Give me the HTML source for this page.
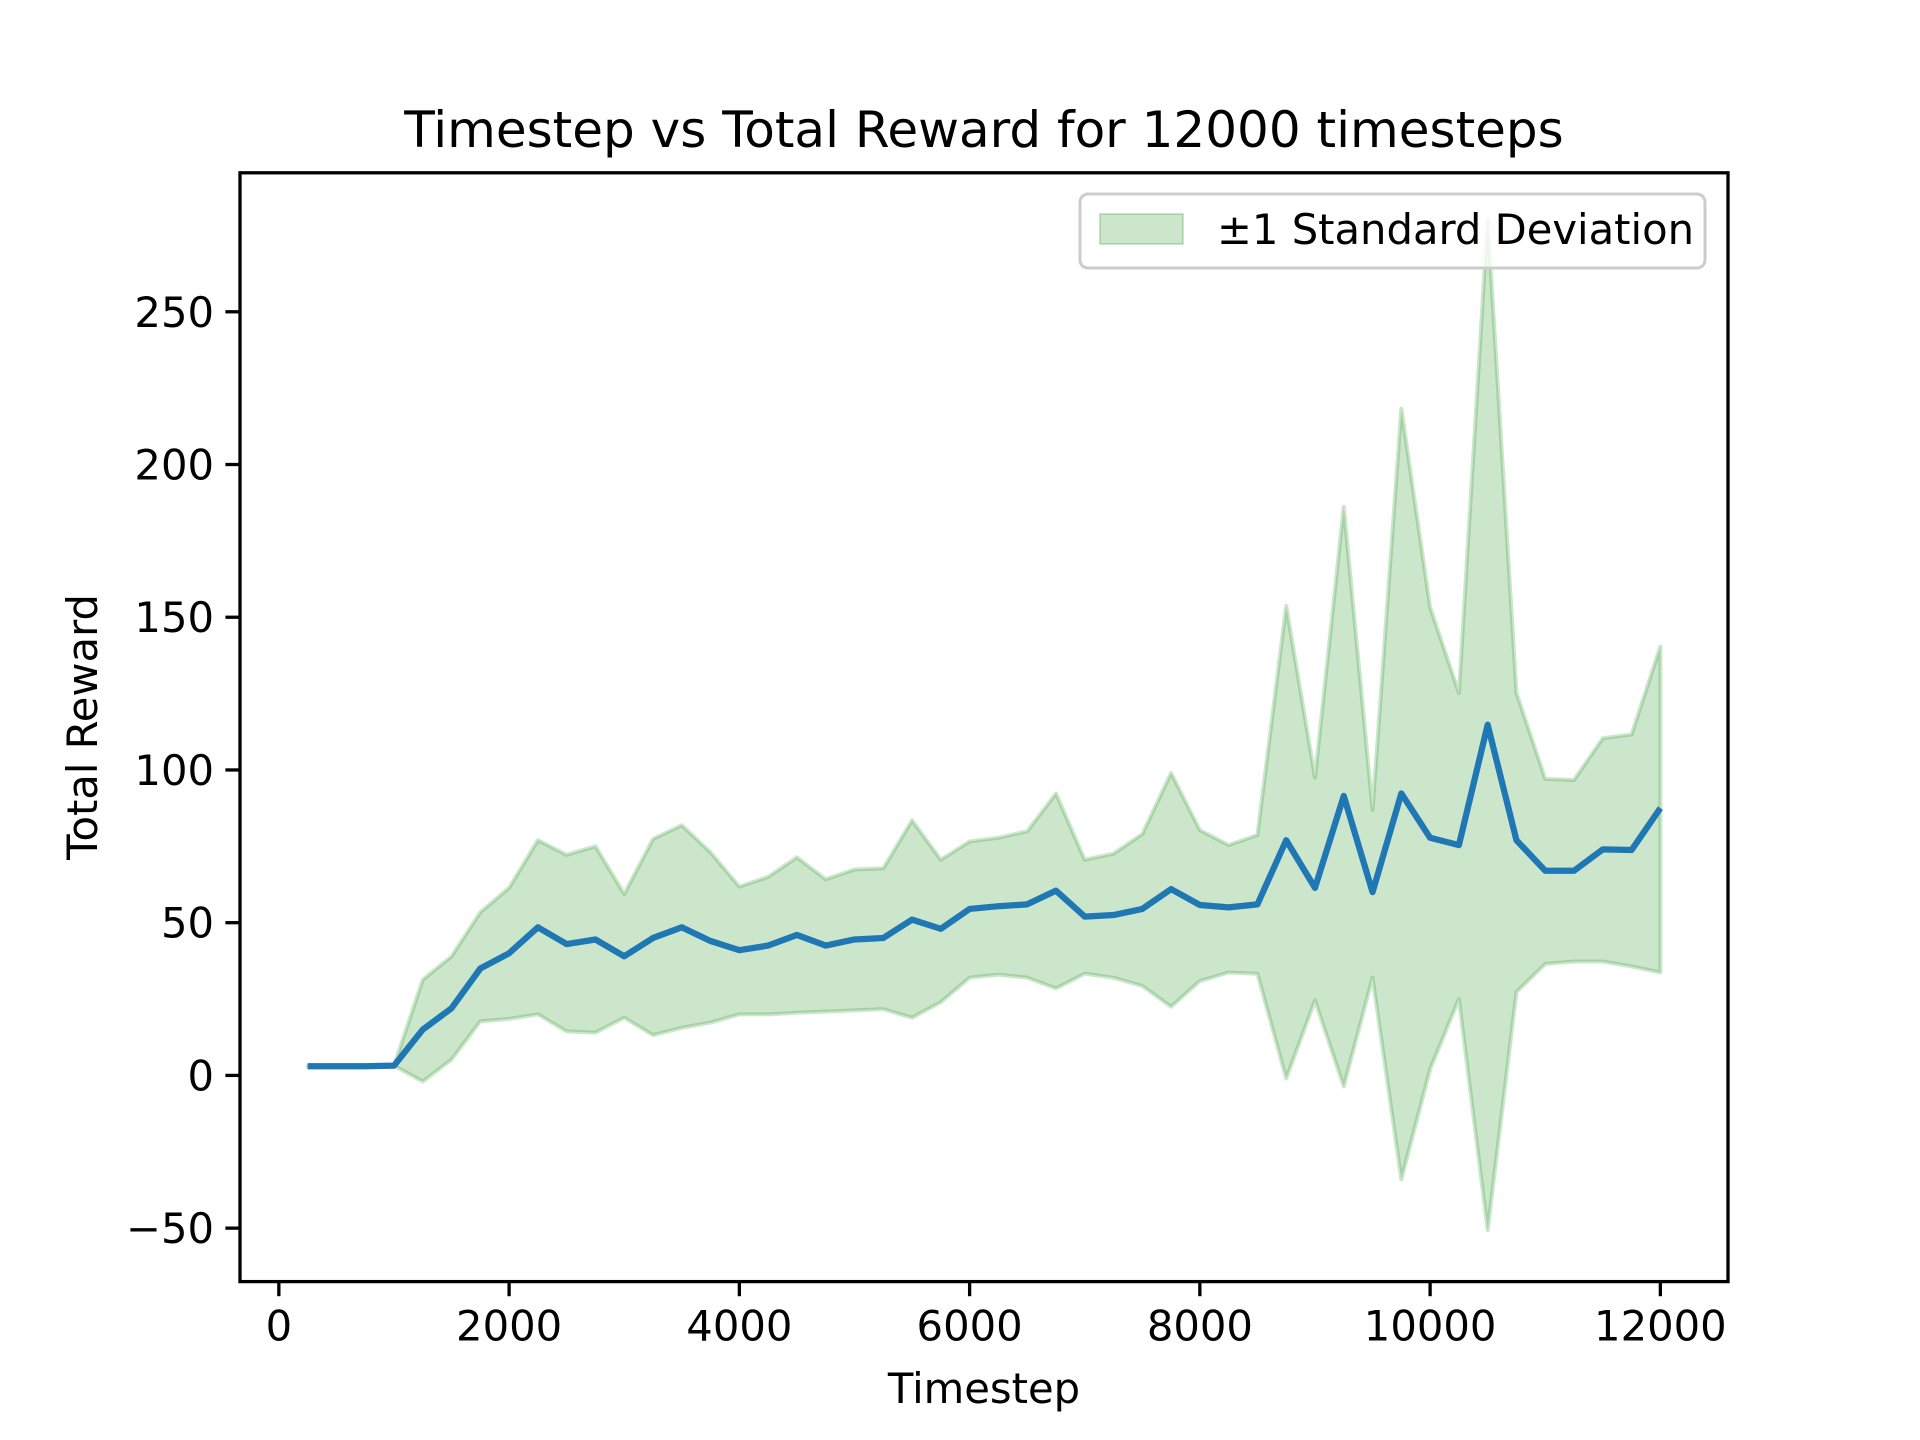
<!DOCTYPE html>
<html><head><meta charset="utf-8"><style>
html,body{margin:0;padding:0;background:#fff;}
svg{display:block;font-family:"DejaVu Sans","Liberation Sans",sans-serif;}
</style></head><body>
<svg id="chart" width="1920" height="1440" viewBox="0 0 1920 1440" xmlns="http://www.w3.org/2000/svg">
<rect width="1920" height="1440" fill="#fff"/>
<g id="fillg"></g>
<g id="lineg"></g>
<g id="axes"></g>
<text x="984" y="147" font-size="50" text-anchor="middle">Timestep vs Total Reward for 12000 timesteps</text>
<text x="984" y="1403" font-size="41.7" text-anchor="middle">Timestep</text>
<text x="0" y="0" font-size="41.7" text-anchor="middle" transform="translate(97,727) rotate(-90)">Total Reward</text>
<g>
<rect x="1080" y="194" width="625" height="74" rx="8" fill="#fff" fill-opacity="0.8" stroke="#cccccc" stroke-width="3"/>
<rect x="1100" y="214" width="83" height="30" fill="green" fill-opacity="0.2" stroke="green" stroke-opacity="0.2" stroke-width="2"/>
<text x="1217" y="244" font-size="41.7">±1 Standard Deviation</text>
</g>
</svg>
<script>
const timesteps = [250,500,750,1000,1250,1500,1750,2000,2250,2500,2750,3000,3250,3500,3750,4000,4250,4500,4750,5000,5250,5500,5750,6000,6250,6500,6750,7000,7250,7500,7750,8000,8250,8500,8750,9000,9250,9500,9750,10000,10250,10500,10750,11000,11250,11500,11750,12000];
const meanReward = [3,3,3,3.2,15,22,35,40,48.5,43,44.5,39,45,48.5,44,41,42.5,46,42.5,44.5,45,51,48,54.5,55.4,56,60.5,52,52.5,54.5,61,55.8,55,56,77,61.4,91.5,60,92.3,77.8,75.4,114.8,77,67,67,74,73.8,87.5];
const upperBand = [3,3,3,3.2,31.3,39,53.4,61.4,77,72.2,75,59.4,77.4,81.9,73,61.8,65,71.4,64.2,67.4,67.8,83.5,70.6,76.6,77.8,79.9,92.3,70.6,72.6,79,99,80.3,75.4,78.7,153.7,97.5,186.2,87,218.3,153.3,125.2,280.5,125.2,97.1,96.7,110.4,111.6,140.4];
const lowerBand = [3,3,3,3.2,-2,5.2,17.7,18.5,20,14.4,14,18.9,13.2,15.6,17.3,20,20,20.5,20.9,21.3,21.7,18.9,24,32,33,32,28.5,33.3,32,29.3,22.5,30.9,33.7,33.3,-1,24.5,-3.6,32,-34,2,25,-50.6,27.3,36.5,37.3,37.3,35.7,33.7];
const xTicks = [0,2000,4000,6000,8000,10000,12000];
const yTicks = [-50,0,50,100,150,200,250];

const L=240,R=1728,T=172.8,B=1281.6;
const XMIN=-337.5,XMAX=12587.5,YMIN=-67.5,YMAX=295.5;
const sx=v=>L+(v-XMIN)/(XMAX-XMIN)*(R-L);
const sy=v=>B-(v-YMIN)/(YMAX-YMIN)*(B-T);
const NS="http://www.w3.org/2000/svg";
function mk(tag,parent,attrs){const e=document.createElementNS(NS,tag);for(const k in attrs)e.setAttribute(k,attrs[k]);parent.appendChild(e);return e;}

let pts=[];
for(let i=0;i<timesteps.length;i++)pts.push(sx(timesteps[i])+","+sy(upperBand[i]));
for(let i=timesteps.length-1;i>=0;i--)pts.push(sx(timesteps[i])+","+sy(lowerBand[i]));
const band=mk("polygon",document.getElementById("fillg"),{points:pts.join(" "),fill:"green","fill-opacity":"0.2",stroke:"green","stroke-opacity":"0.2","stroke-width":"4","stroke-linejoin":"round"});



const lp=timesteps.map((t,i)=>sx(t)+","+sy(meanReward[i])).join(" ");
const line=mk("polyline",document.getElementById("lineg"),{points:lp,fill:"none",stroke:"#1f77b4","stroke-width":"6.25","stroke-linejoin":"round","stroke-linecap":"butt"});



const ax=document.getElementById("axes");
const frame=mk("rect",ax,{x:L,y:T,width:R-L,height:B-T,fill:"none",stroke:"#000","stroke-width":"3.3"});


xTicks.forEach(v=>{
  const x=sx(v);
  const tk=mk("line",ax,{x1:x,x2:x,y1:B,y2:B+14.6,stroke:"#000","stroke-width":"3.3"});
  
  
  const tx=mk("text",ax,{x:x,y:B+59,"font-size":"41.7","text-anchor":"middle"});
  tx.textContent=String(v);
  
  
});
yTicks.forEach(v=>{
  const y=sy(v);
  const tk=mk("line",ax,{x1:L-14.6,x2:L,y1:y,y2:y,stroke:"#000","stroke-width":"3.3"});
  
  
  const tx=mk("text",ax,{x:L-26,y:y+15,"font-size":"41.7","text-anchor":"end"});
  tx.textContent=v<0?"\u2212"+Math.abs(v):String(v);
  
  
});
</script>
</body></html>
